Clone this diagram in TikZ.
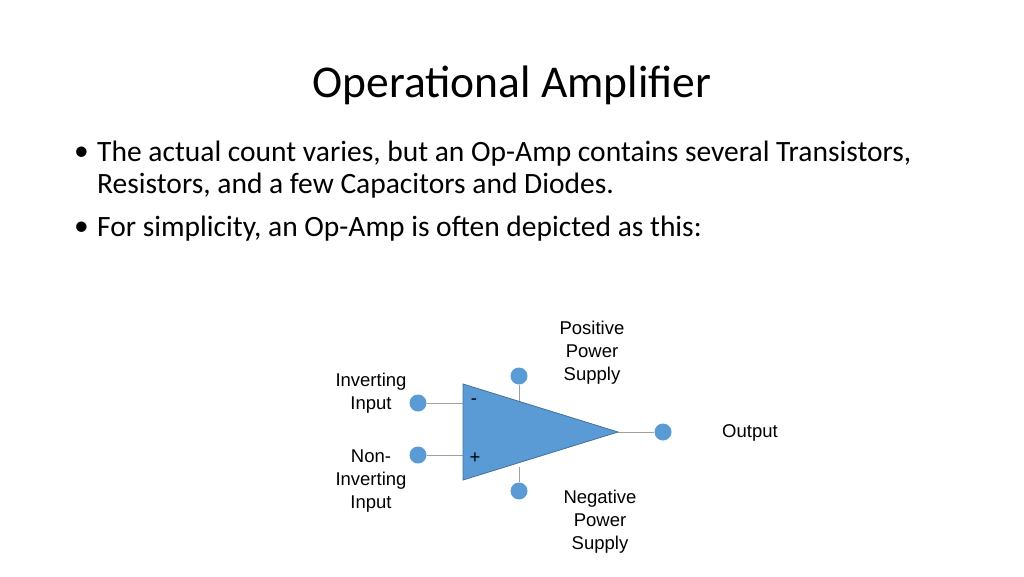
\documentclass[tikz,border=0pt]{standalone}
\usepackage{fontspec}
\setmainfont{Carlito}
\newfontfamily\arial{Liberation Sans}
\begin{document}
\begin{tikzpicture}[x=1pt,y=-1pt,
  pin/.style={circle,draw=none,minimum size=17pt,inner sep=0pt,fill={rgb,255:red,91;green,155;blue,213}},
  lbl/.style={font=\arial\fontsize{18.5}{23}\selectfont,align=center,inner sep=0pt},
  wire/.style={draw={rgb,255:red,160;green,160;blue,160},line width=0.8pt},
  body/.style={font=\fontsize{29.5}{36}\selectfont,anchor=west,inner sep=0pt}]
\useasboundingbox (0,0) rectangle (1024,576);
\node (title) at (512,85) {\fontsize{45.5}{54}\selectfont Operational Amplifier};
\node[body] (b1) at (74,154) {•};
\node[body] (t1) at (97,154) {The actual count varies, but an Op-Amp contains several Transistors,};
\node[body] (t2) at (97,186) {Resistors, and a few Capacitors and Diodes.};
\node[body] (b2) at (74,229) {•};
\node[body] (t3) at (97,229) {For simplicity, an Op-Amp is often depicted as this:};
\coordinate (A) at (463,384);
\coordinate (B) at (463,480);
\coordinate (C) at (618,432);
\coordinate (im) at (463,403);
\coordinate (ip) at (463,455);
\coordinate (tp) at (519,401);
\coordinate (bt) at (519,467);
\node[pin] (inv) at (418,403) {};
\node[pin] (non) at (418,455) {};
\node[pin] (pos) at (519,376) {};
\node[pin] (neg) at (519,491) {};
\node[pin] (out) at (663,432) {};
\draw[wire] (inv) -- (im);
\draw[wire] (non) -- (ip);
\draw[wire] (pos) -- (tp);
\draw[wire] (neg) -- (bt);
\draw[wire] (C) -- (out);
\filldraw[fill={rgb,255:red,91;green,155;blue,213},draw={rgb,255:red,65;green,113;blue,156},line width=0.8pt] (A) -- (B) -- (C) -- cycle;
\node[lbl] (minus) at (474,402) {-};
\node[lbl] (plus) at (475,458) {+};
\node[lbl] (linv) at (371,393) {Inverting\\Input};
\node[lbl] (lnon) at (371,481) {Non-\\Inverting\\Input};
\node[lbl] (lpos) at (592,353) {Positive\\Power\\Supply};
\node[lbl] (lneg) at (600,522) {Negative\\Power\\Supply};
\node[lbl] (lout) at (750,433) {Output};
\end{tikzpicture}
\end{document}
